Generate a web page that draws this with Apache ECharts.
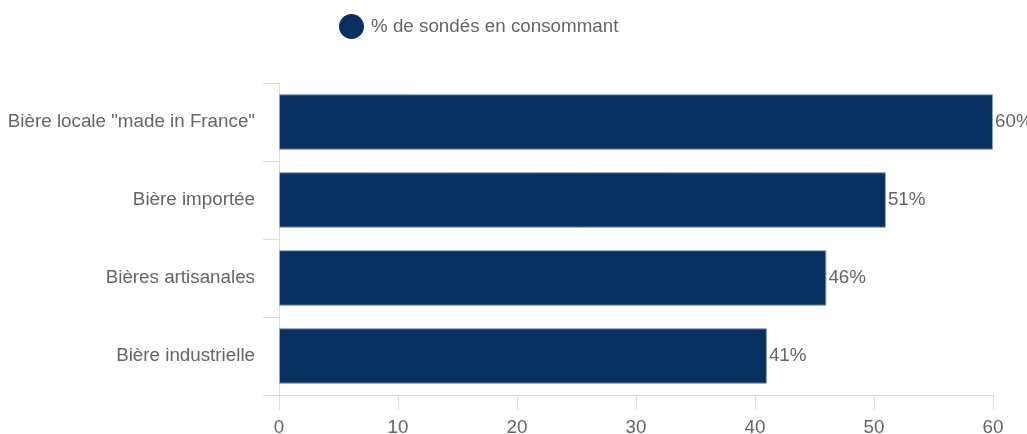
<!DOCTYPE html>
<html>
<head>
<meta charset="utf-8">
<script src="https://cdn.jsdelivr.net/npm/echarts@6/dist/echarts.min.js"></script>
<style>
  html, body { margin: 0; padding: 0; background: #fff; }
  #chart { width: 1027px; height: 434px; }
</style>
</head>
<body>
<div id="chart"></div>
<script>
// Beer types, top to bottom
const categories = ['Bière locale "made in France"', 'Bière importée', 'Bières artisanales', 'Bière industrielle'];
// Share of respondents consuming each type (%)
const values = [60, 51, 46, 41];
const seriesName = '% de sondés en consommant';
const xTicks = [0, 10, 20, 30, 40, 50, 60];

const font = 'Liberation Sans, Arial, sans-serif';
const fs = 18.8;
const chart = echarts.init(document.getElementById('chart'));
chart.setOption({
  animation: false,
  textStyle: { fontFamily: font },
  legend: {
    data: [seriesName],
    top: 9,
    left: 334,
    icon: 'circle',
    itemWidth: 25,
    itemHeight: 25,
    itemGap: 10,
    itemStyle: { borderWidth: 0 },
    textStyle: { fontSize: fs, color: '#666', fontFamily: font, padding: [0, 0, 0, 2] }
  },
  grid: { left: 279, right: 34, top: 83, bottom: 39, containLabel: false, outerBoundsMode: 'none' },
  xAxis: {
    type: 'value',
    min: xTicks[0],
    max: xTicks[xTicks.length - 1],
    interval: 10,
    axisLine: { show: true, lineStyle: { color: '#ddd' } },
    axisTick: { show: true, length: 15, lineStyle: { color: '#ddd' } },
    axisLabel: { fontSize: fs, color: '#666', margin: 23, fontFamily: font },
    splitLine: { show: false }
  },
  yAxis: {
    type: 'category',
    inverse: true,
    data: categories,
    axisLine: { show: true, lineStyle: { color: '#ddd' } },
    axisTick: { show: true, length: 16, lineStyle: { color: '#ddd' } },
    axisLabel: { fontSize: fs, color: '#666', margin: 24, fontFamily: font },
    splitLine: { show: false }
  },
  series: [{
    name: seriesName,
    type: 'bar',
    data: values,
    barCategoryGap: '29%',
    itemStyle: { color: '#072f5f', borderColor: '#8ea2bc', borderWidth: 1 },
    label: {
      show: true,
      position: 'right',
      distance: 2,
      formatter: '{c}%',
      fontSize: fs,
      color: '#666',
      fontFamily: font
    }
  }]
});
</script>
</body>
</html>
